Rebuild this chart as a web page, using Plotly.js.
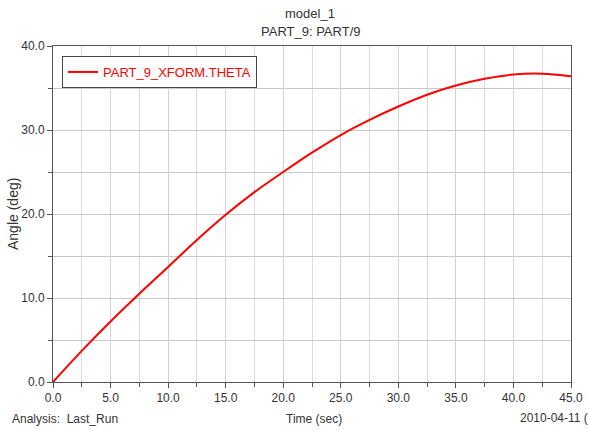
<!DOCTYPE html>
<html>
<head>
<meta charset="utf-8">
<script src="https://cdn.plot.ly/plotly-3.0.1.min.js"></script>
<style>
html,body{margin:0;padding:0;background:#fff;}
#chart{width:589px;height:430px;}
</style>
</head>
<body>
<div id="chart"></div>
<script>
// Data
var timeSec = [0, 2.5, 5, 7.5, 10, 12.5, 15, 17.5, 20, 22.5, 25, 27.5, 30, 32.5, 35, 37.5, 40, 42.5, 45];
var thetaDeg = [0, 3.7, 7.2, 10.5, 13.7, 16.9, 19.9, 22.6, 25.0, 27.3, 29.4, 31.2, 32.8, 34.2, 35.3, 36.1, 36.6, 36.7, 36.4];
var seriesName = 'PART_9_XFORM.THETA';
var titleLines = ['model_1', 'PART_9: PART/9'];
var xTitle = 'Time (sec)';
var yTitle = 'Angle (deg)';
var footLeft = 'Analysis:  Last_Run';
var footRight = '2010-04-11 (';

var narrow = '"Liberation Sans Narrow", "Liberation Sans", Arial, sans-serif';
var txt = '#333333';
var fs = 12;

var trace = {
  x: timeSec, y: thetaDeg, name: seriesName, type: 'scatter', mode: 'lines',
  line: {color: '#ff0000', width: 2, shape: 'spline'},
  showlegend: true
};

function pxX(px) { return (px - 53) / 518; }
function pxY(py) { return (382 - py) / 336; }

var layout = {
  width: 589, height: 430,
  margin: {l: 53, r: 18, t: 46, b: 48},
  paper_bgcolor: '#ffffff', plot_bgcolor: '#ffffff',
  font: {family: narrow, size: fs, color: txt},
  showlegend: true,
  legend: {
    x: pxX(62), y: pxY(56), xanchor: 'left', yanchor: 'top',
    bgcolor: '#ffffff', bordercolor: '#444444', borderwidth: 1,
    font: {family: narrow, size: 13, color: '#ff0000'},
    itemwidth: 30, tracegroupgap: 0
  },
  xaxis: {
    range: [0, 45], tick0: 0, dtick: 5, tickformat: '.1f',
    ticks: 'outside', ticklen: 5, tickcolor: '#555555',
    showgrid: true, gridcolor: '#d2d2d2', gridwidth: 1,
    minor: {dtick: 2.5, ticks: 'outside', ticklen: 4, tickcolor: '#555555', showgrid: true, gridcolor: '#dcdcdc'},
    showline: true, linecolor: '#555555', linewidth: 1, mirror: true,
    zeroline: false, fixedrange: true,
    tickfont: {family: narrow, size: fs, color: txt}
  },
  yaxis: {
    range: [0, 40], tick0: 0, dtick: 10, tickformat: '.1f',
    ticks: 'outside', ticklen: 5, tickcolor: '#555555',
    showgrid: true, gridcolor: '#c8c8c8', gridwidth: 1,
    minor: {dtick: 5, ticks: 'outside', ticklen: 4, tickcolor: '#555555', showgrid: true, gridcolor: '#c8c8c8'},
    showline: true, linecolor: '#555555', linewidth: 1, mirror: true,
    zeroline: false, fixedrange: true,
    tickfont: {family: narrow, size: fs, color: txt}
  },
  annotations: [
    {text: titleLines[0], xref: 'paper', yref: 'paper', x: pxX(310), y: pxY(14), xanchor: 'center', yanchor: 'middle', showarrow: false, font: {family: narrow, size: 13, color: txt}},
    {text: titleLines[1], xref: 'paper', yref: 'paper', x: pxX(310), y: pxY(31.5), xanchor: 'center', yanchor: 'middle', showarrow: false, font: {family: narrow, size: 13, color: txt}},
    {text: yTitle, xref: 'paper', yref: 'paper', x: pxX(13), y: pxY(214), xanchor: 'center', yanchor: 'middle', textangle: -90, showarrow: false, font: {family: '"Liberation Sans", Arial, sans-serif', size: 14, color: txt}},
    {text: xTitle, xref: 'paper', yref: 'paper', x: pxX(314), y: pxY(419), xanchor: 'center', yanchor: 'middle', showarrow: false, font: {family: narrow, size: fs, color: txt}},
    {text: footLeft, xref: 'paper', yref: 'paper', x: pxX(10), y: pxY(419), xanchor: 'left', yanchor: 'middle', showarrow: false, font: {family: narrow, size: fs, color: txt}},
    {text: footRight, xref: 'paper', yref: 'paper', x: pxX(518), y: pxY(418), xanchor: 'left', yanchor: 'middle', showarrow: false, font: {family: narrow, size: fs, color: txt}}
  ]
};

Plotly.newPlot('chart', [trace], layout, {displayModeBar: false, staticPlot: true});
</script>
</body>
</html>
